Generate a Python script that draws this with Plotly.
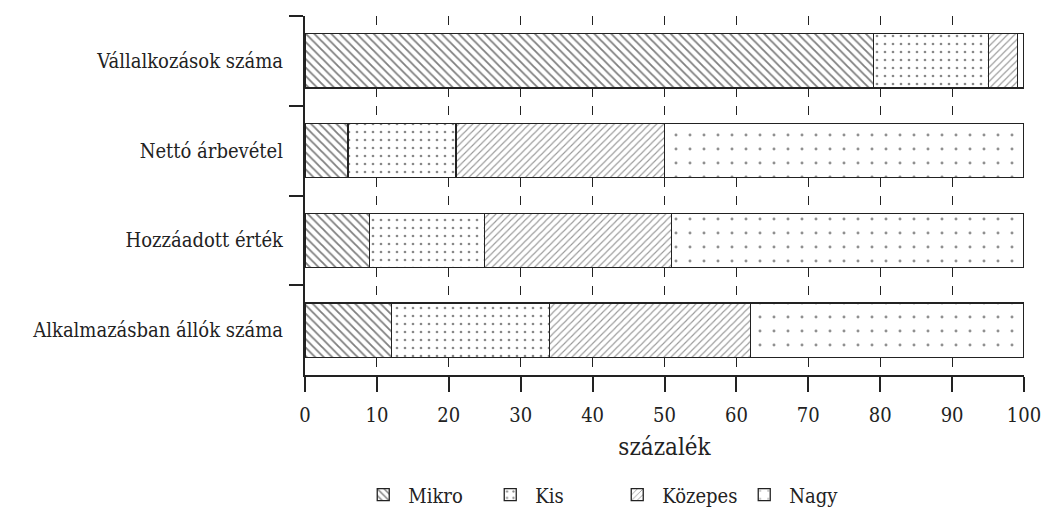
import plotly.graph_objects as go

categories = ["Vállalkozások száma", "Nettó árbevétel", "Hozzáadott érték", "Alkalmazásban állók száma"]
series_names = ["Mikro", "Kis", "Közepes", "Nagy"]
mikro = [79.1, 6.0, 9.0, 12.0]
kis = [16.0, 15.0, 16.0, 22.0]
kozepes = [4.0, 29.0, 26.0, 28.0]
nagy = [0.9, 50.0, 49.0, 38.0]
x_ticks = [0, 10, 20, 30, 40, 50, 60, 70, 80, 90, 100]

values = [mikro, kis, kozepes, nagy]
patterns = [
    dict(shape="\\", size=6, solidity=0.3, fgcolor="#000", bgcolor="white", fillmode="overlay"),
    dict(shape=".", size=8, solidity=0.09, fgcolor="#111", bgcolor="white", fillmode="overlay"),
    dict(shape="/", size=5, solidity=0.22, fgcolor="#333", bgcolor="white", fillmode="overlay"),
    dict(shape=".", size=14, solidity=0.035, fgcolor="#222", bgcolor="white", fillmode="overlay"),
]

FONT = "DejaVu Serif Condensed, DejaVu Serif"
FS = 20
fig = go.Figure()
for name, vals, pat in zip(series_names, values, patterns):
    fig.add_trace(go.Bar(
        y=categories, x=vals, name=name, orientation="h",
        marker=dict(color="white", pattern=pat, line=dict(color="#222", width=1.3)),
    ))

fig.update_layout(
    barmode="stack",
    bargap=0.395,
    width=1043, height=510,
    margin=dict(l=305, r=19, t=16, b=135, autoexpand=False),
    paper_bgcolor="white", plot_bgcolor="white",
    font=dict(family=FONT, size=FS, color="#222"),
    showlegend=True,
    legend=dict(orientation="h", xref="container", yref="container",
                x=0.587, xanchor="center", y=0.03, yanchor="middle",
                font=dict(family=FONT, size=FS), itemwidth=40, entrywidth=72,
                traceorder="normal"),
    xaxis=dict(
        range=[0, 100], tickvals=x_ticks, ticks="outside", ticklen=15, tickwidth=2,
        tickcolor="#222", showline=True, linewidth=2, linecolor="#222",
        showgrid=True, gridcolor="#222", gridwidth=1, griddash="dash",
        zeroline=False, automargin=False, ticklabelstandoff=6,
        title=dict(text="százalék", standoff=12),
    ),
    yaxis=dict(
        categoryorder="array", categoryarray=categories, autorange="reversed",
        tickson="boundaries", ticks="outside", ticklen=14, tickwidth=2, tickcolor="#222",
        showline=True, linewidth=2, linecolor="#222", showgrid=False, zeroline=False,
        automargin=False, ticklabelstandoff=16,
    ),
)

fig.write_html("out.html")
